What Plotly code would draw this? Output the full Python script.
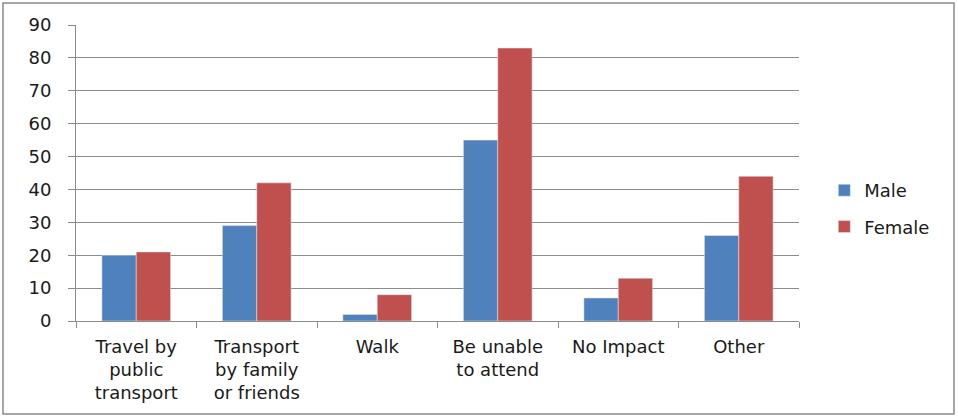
import plotly.graph_objects as go

categories = ["Travel by<br>public<br>transport", "Transport<br>by family<br>or friends",
              "Walk", "Be unable<br>to attend", "No Impact", "Other"]
male = [20, 29, 2, 55, 7, 26]
female = [21, 42, 8, 83, 13, 44]
y_ticks = [0, 10, 20, 30, 40, 50, 60, 70, 80, 90]

blue = "#4F81BD"
red = "#C0504D"
grid = "#8C8C8C"
txt = "#1A1A1A"

fig = go.Figure()
fig.add_trace(go.Bar(x=categories, y=male, name="Male", marker_color=blue,
                     legendgroup="m"))
fig.add_trace(go.Bar(x=categories, y=female, name="Female", marker_color=red,
                     legendgroup="f"))

# outer chart border
fig.add_shape(type="rect", xref="paper", yref="paper",
              x0=-0.101, x1=1.2144, y0=-0.314, y1=1.074,
              line=dict(color="#8A8A8A", width=1.5))

fig.update_xaxes(showline=True, linecolor=grid, linewidth=1,
                 ticks="outside", tickson="boundaries", ticklen=6, tickcolor=grid,
                 ticklabelstandoff=9,
                 tickfont=dict(size=18, color=txt))
fig.update_yaxes(range=[0, 90], tickvals=y_ticks, showline=True, linecolor=grid,
                 linewidth=1, gridcolor=grid, gridwidth=1,
                 ticks="outside", ticklen=7, tickcolor=grid, ticklabelstandoff=13,
                 tickfont=dict(size=18, color=txt), zeroline=False)

fig.update_layout(
    width=958, height=419,
    margin=dict(l=76, r=159, t=25, b=98),
    barmode="group", bargap=0.43, bargroupgap=0,
    plot_bgcolor="white", paper_bgcolor="white",
    font=dict(family="DejaVu Sans", size=18, color=txt),
    legend=dict(x=1.035, y=0.38, xanchor="left", yanchor="middle",
                tracegroupgap=10, font=dict(size=18)),
)

fig.write_html("out.html", config={"displayModeBar": False},
               post_script="document.body.style.margin='0';")
